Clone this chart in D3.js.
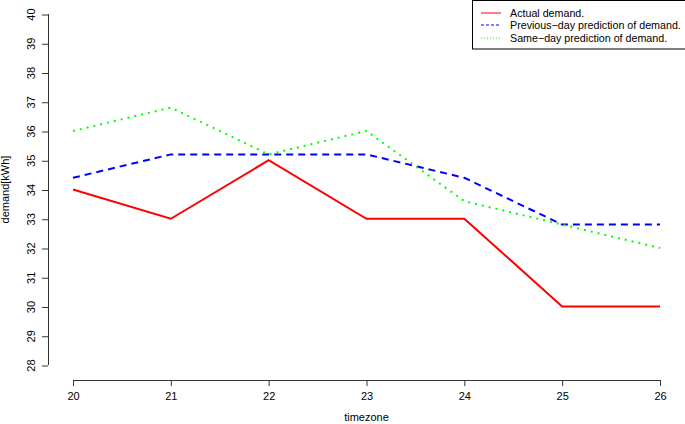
<!DOCTYPE html>
<html><head><meta charset="utf-8">
<script src="https://cdn.jsdelivr.net/npm/d3@7"></script>
<style>body{margin:0;background:#fff}text{font-family:"Liberation Sans",Arial,sans-serif}</style>
</head><body><svg id="c" width="685" height="424"></svg>
<script>
const timezones = [20,21,22,23,24,25,26];
const actual = [34,33,35,33,33,30,30];
const previousDay = [34.4,35.2,35.2,35.2,34.4,32.8,32.8];
const sameDay = [36,36.8,35.2,36,33.6,32.8,32];
const yTicks = [28,29,30,31,32,33,34,35,36,37,38,39,40];
const seriesNames = ["Actual demand.","Previous\u2212day prediction of demand.","Same\u2212day prediction of demand."];

const svg = d3.select("#c");
const x = d3.scaleLinear().domain([20,26]).range([73,660]);
const y = d3.scaleLinear().domain([28,40]).range([365,14]);

const gx = svg.append("g").attr("transform","translate(0,380)")
  .call(d3.axisBottom(x).tickValues(timezones).tickSize(6).tickPadding(6).tickFormat(d3.format("d")));
const gy = svg.append("g").attr("transform","translate(48,0)")
  .call(d3.axisLeft(y).tickValues(yTicks).tickSize(6).tickFormat(d3.format("d")));
[gx,gy].forEach(g=>{
  g.selectAll("path,line").attr("stroke","#333").attr("stroke-width",1);
  g.selectAll("text").attr("font-size","11px").attr("fill","#000").attr("font-family","Liberation Sans, Arial, sans-serif");
});
gy.selectAll(".tick line").remove();
gy.selectAll(".tick").append("line").attr("x1",-6).attr("x2",0).attr("y1",0.5).attr("y2",0.5)
  .attr("stroke","#333").attr("stroke-width",1);
gy.selectAll(".tick text").attr("transform","rotate(-90)")
  .attr("x",0).attr("y",-13).attr("dy","0").attr("text-anchor","middle");
gy.select(".domain").attr("d",`M0.5,${y(28)}V${y(40)}`);
gx.select(".domain").attr("d",`M${x(20)},0.5H${x(26)}`);

svg.append("text").attr("transform","translate(9,"+y(34)+") rotate(-90)")
  .attr("text-anchor","middle").attr("font-size","11px").text("demand[kWh]");
svg.append("text").attr("x",x(23)).attr("y",421).attr("text-anchor","middle")
  .attr("font-size","11px").text("timezone");

const series = [
  {vals:actual,color:"#ff0000",dash:null,ldash:null},
  {vals:previousDay,color:"#0000ff",dash:"7,5",ldash:"3,2"},
  {vals:sameDay,color:"#00ff00",dash:"2,5",ldash:"1,2"}
];
const line = d3.line().x((d,i)=>x(timezones[i])).y(d=>y(d));
series.forEach(s=>{
  svg.append("path").attr("d",line(s.vals)).attr("fill","none")
    .attr("stroke",s.color).attr("stroke-width",2)
    .attr("stroke-dasharray",s.dash);
});

const lg = svg.append("g");
lg.append("rect").attr("x",472.5).attr("y",0.5).attr("width",220).attr("height",48.5)
  .attr("fill","#fff").attr("stroke","#000").attr("stroke-width",1);
seriesNames.forEach((n,i)=>{
  const yy = [13,25,38][i];
  lg.append("line").attr("x1",481).attr("x2",501).attr("y1",yy).attr("y2",yy)
    .attr("stroke",series[i].color).attr("stroke-width",1).attr("stroke-dasharray",series[i].ldash);
  lg.append("text").attr("x",510).attr("y",yy+4).attr("font-size","10.7px").text(n);
});
</script></body></html>
